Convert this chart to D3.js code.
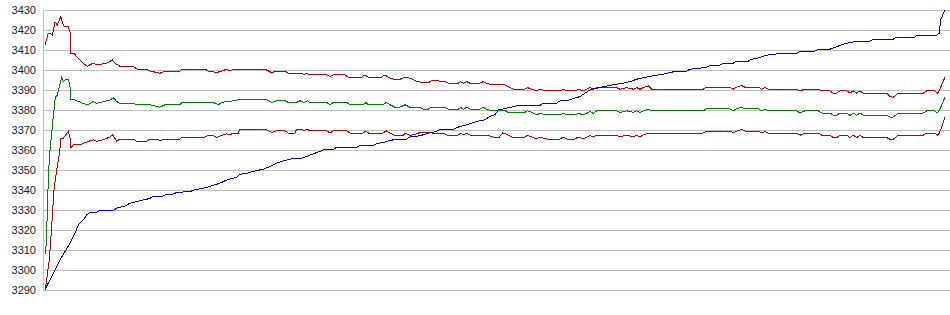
<!DOCTYPE html>
<html>
<head>
<meta charset="utf-8">
<script src="https://cdn.jsdelivr.net/npm/d3@7"></script>
<style>
  body { margin: 0; background: #fff; }
  .tick text { font-family: "Liberation Sans", Arial, sans-serif; font-size: 11px; fill: #222; }
</style>
</head>
<body>
<div id="chart"></div>
<script>
// y ticks
const yTicks = [3290, 3300, 3310, 3320, 3330, 3340, 3350, 3360, 3370, 3380, 3390, 3400, 3410, 3420, 3430];

// each series: [sample index, value]
const upper = [[0,3412.6],[3.3,3418.4],[5,3418.5],[7.3,3417.5],[10,3424],[12.3,3422.5],[14.3,3425],[16,3426.7],[17.3,3424],[19.3,3421.7],[23.3,3421.7],[25,3419],[26,3408.4],[29,3408.4],[31.7,3406.7],[35,3405],[38.3,3403.4],[42.3,3401.8],[45,3402.6],[48.3,3403.4],[51.7,3402.6],[55,3402.6],[58.3,3403.4],[61.7,3403.4],[67.3,3405],[70,3403.4],[75,3401.8],[88.3,3401.8],[91.7,3400.5],[101.7,3400.5],[105,3399.5],[115,3398.4],[120,3399.5],[135,3399.5],[136.7,3400.4],[160,3400.4],[163.3,3399.5],[171.7,3398.7],[176.7,3399.5],[181.7,3400.4],[185,3399.5],[188.3,3400.4],[220,3400.4],[226.7,3398.7],[231.7,3399.5],[240,3399.5],[243.3,3398.4],[256.7,3398.4],[259,3397.6],[261.7,3398.4],[265,3397.6],[281.7,3397.6],[285,3396.8],[288.3,3397.6],[300,3397.6],[303.3,3396.4],[316.7,3396.4],[320,3397.6],[323.3,3396.4],[336.7,3396.4],[340,3397.6],[343.3,3396.4],[348.3,3395.4],[355,3395.4],[360,3396.4],[365,3395.9],[370,3394.7],[376.7,3393.7],[383.3,3393.7],[386.7,3394.6],[400,3394.4],[403.3,3393.4],[413.3,3393.4],[415.7,3394.2],[418.3,3393.4],[421.7,3394.2],[425,3393.4],[435,3393.4],[438.3,3394.2],[441.7,3393.4],[446.7,3392.6],[460,3392.6],[463.3,3391.7],[468.3,3390.4],[480,3390.4],[482.3,3391.2],[486.7,3390.4],[491.7,3389.6],[495,3390.4],[501.7,3389.6],[515,3389.6],[518.3,3390.4],[521.7,3389.6],[530,3389.6],[533.3,3390.4],[538.3,3389.6],[541.7,3390.4],[545,3391.2],[548.3,3390.4],[551.7,3391.2],[571.7,3391.2],[575,3390.4],[581.7,3391.2],[588.3,3390.4],[591.7,3391.2],[595,3390.4],[598.3,3391.2],[603.3,3392],[606.7,3390.4],[658.3,3390.4],[661.7,3391.4],[685,3391.4],[688.3,3390.4],[691.7,3391.4],[696.7,3392.2],[700,3391.4],[713.3,3391.4],[716.7,3390.4],[720,3391.2],[723.3,3390.4],[751.7,3390.4],[755,3389.6],[760,3390.4],[773.3,3390.4],[776.7,3389.6],[785,3389.6],[788.3,3388.4],[791.7,3388.4],[795,3389.6],[801.7,3389.6],[805,3388.4],[808.3,3389.6],[811.7,3388.4],[815,3389.6],[818.3,3388.4],[841.7,3388.4],[845,3386.7],[848.3,3386.4],[853.3,3388.4],[878.3,3388.4],[881.7,3389.6],[890,3389.6],[892.3,3388.4],[894.3,3389.6],[896.7,3392.6],[900,3396.4]];

const middle = [[0.7,3308],[1.7,3320],[2.7,3334],[3.3,3347],[5,3360],[6.7,3368.5],[8.3,3376.8],[10,3385],[10.7,3386.7],[12.3,3387.5],[14.3,3391.7],[16.7,3396.3],[18.3,3394.3],[20,3395],[23.3,3395.4],[25,3391.7],[26,3385],[28.3,3385.4],[31.7,3384.6],[38.3,3383.3],[42.3,3382.6],[48.3,3384.2],[51.7,3383.3],[58.3,3384.2],[65,3385],[68.3,3386.2],[71.7,3384.2],[75,3383.3],[88.3,3383.3],[91.7,3382.6],[105,3382.6],[115,3381.4],[120,3382.6],[135,3382.6],[136.7,3383.8],[168.3,3383.8],[173.3,3382.6],[176.7,3383.8],[181.7,3384.2],[188.3,3384.6],[195,3385.4],[220,3385.4],[226.7,3383.8],[231.7,3384.6],[240,3384.6],[243.3,3383.8],[251.7,3383.8],[255,3384.6],[259,3383.8],[262.3,3384.6],[265,3383.8],[281.7,3383.8],[285,3382.6],[288.3,3383.8],[301.7,3383.8],[305,3382.6],[318.3,3382.6],[321,3383.8],[323.3,3382.6],[338.3,3382.6],[341,3383.8],[345,3382.6],[350,3381.4],[355,3381.4],[360,3382.6],[365,3381.4],[375,3381.4],[378.3,3380.4],[383.3,3380.4],[386.7,3381.4],[400,3381.4],[403.3,3380.4],[413.3,3380.4],[415.7,3381.3],[418.3,3380.4],[421.7,3381.3],[425,3380.4],[435,3380.4],[438.3,3381.3],[441.7,3380.4],[446.7,3379.6],[460,3379.6],[463.3,3378.8],[480,3378.8],[482.3,3379.6],[486.7,3378.8],[491.7,3377.6],[495,3378.3],[501.7,3377.6],[515,3377.6],[518.3,3378.3],[521.7,3377.6],[530,3377.6],[533.3,3378.3],[538.3,3377.6],[541.7,3378.3],[545,3379.2],[548.3,3378.3],[551.7,3379.6],[571.7,3379.6],[575,3378.8],[581.7,3379.6],[588.3,3378.8],[591.7,3379.6],[595,3378.8],[598.3,3379.6],[603.3,3380.4],[606.7,3379.6],[658.3,3379.6],[661.7,3380.6],[685,3380.6],[688.3,3379.6],[691.7,3380.6],[696.7,3381.4],[700,3380.6],[713.3,3380.6],[716.7,3379.6],[720,3380.4],[723.3,3379.6],[751.7,3379.6],[755,3378.5],[760,3379.6],[773.3,3379.6],[776.7,3378.5],[785,3378.5],[788.3,3377.3],[791.7,3377.3],[795,3378.5],[801.7,3378.5],[805,3377.3],[808.3,3378.5],[811.7,3377.3],[815,3378.5],[818.3,3377.3],[841.7,3377.3],[845,3376.5],[848.3,3376.5],[853.3,3378.5],[878.3,3378.5],[881.7,3379.6],[890,3379.6],[892.3,3378.5],[894.3,3379.6],[896.7,3382.6],[900,3386.4]];

const lower = [[0,3290],[1.7,3295],[2.7,3299.5],[4.3,3305],[5.7,3315],[6.7,3321.7],[8.3,3335],[9,3340],[10.7,3346.7],[12.3,3351.8],[14.3,3357.7],[16,3366],[18.3,3366],[20.7,3367.6],[23.3,3369.3],[25,3366],[26,3361],[28.3,3362.6],[35,3362.6],[38.3,3363.4],[43.3,3364.3],[48.3,3365.1],[51.7,3364.3],[58.3,3365.1],[65,3366.5],[67.7,3367.6],[71.7,3364.3],[75,3365.5],[88.3,3365.5],[91.7,3364.3],[101.7,3364.3],[105,3365.5],[112,3365.5],[115,3364.7],[120,3365.5],[135,3365.5],[136.7,3366.5],[160,3366.5],[163.3,3367.3],[168.3,3367.3],[171.7,3366.3],[176.7,3367.3],[181.7,3368.1],[185,3367.6],[188.3,3368.5],[193.3,3368.5],[195,3370.5],[220,3370.5],[226.7,3368.8],[231.7,3369.6],[240,3369.6],[243.3,3368.5],[250,3368.5],[251.7,3370.5],[256.7,3370.5],[259,3369.6],[261.7,3370.5],[265,3369.6],[281.7,3369.6],[285,3368.5],[288.3,3369.6],[301.7,3369.6],[305,3368.5],[318.3,3368.5],[321,3369.6],[323.3,3368.5],[338.3,3368.5],[341,3369.6],[345,3368.5],[350,3367.3],[358.3,3367.3],[360,3368.5],[365,3367.3],[371.7,3368.1],[375,3368.8],[383.3,3368.8],[386.7,3368.5],[398.3,3368.5],[401.7,3367.5],[413.3,3367.5],[415.7,3368.5],[418.3,3367.5],[421.7,3368.5],[425,3367.5],[441.7,3367.5],[448.3,3366.5],[454.3,3366.5],[457.7,3368.5],[461.7,3367.9],[466.7,3366.5],[480,3366.5],[482.3,3367.3],[486.7,3366.5],[491.7,3365.5],[495,3366.5],[501.7,3365.5],[515,3365.5],[518.3,3366.5],[521.7,3365.5],[530,3365.5],[533.3,3366.5],[538.3,3365.5],[541.7,3366.5],[545,3367.3],[548.3,3366.5],[551.7,3367.5],[571.7,3367.5],[575,3366.5],[581.7,3367.5],[588.3,3366.5],[591.7,3367.5],[595,3366.5],[598.3,3367.5],[603.3,3368.5],[658.3,3368.5],[661.7,3369.5],[685,3369.5],[688.3,3368.5],[691.7,3369.5],[696.7,3370.3],[700,3369.5],[713.3,3369.5],[716.7,3368.5],[720,3369.3],[723.3,3368.5],[751.7,3368.5],[755,3367.4],[760,3368.5],[773.3,3368.5],[776.7,3367.4],[785,3367.4],[788.3,3366.2],[791.7,3366.2],[795,3367.4],[801.7,3367.4],[805,3366.2],[808.3,3367.4],[811.7,3366.2],[815,3367.4],[818.3,3366.2],[841.7,3366.2],[845,3365.4],[848.3,3365.4],[853.3,3367.4],[878.3,3367.4],[881.7,3368.5],[890,3368.5],[892.3,3367.4],[894.3,3368.5],[896.7,3371.5],[900,3376.6]];

const cumulative = [[0,3290],[1.7,3292],[5,3295],[10,3300],[15,3305],[20,3309.2],[25,3313.4],[30,3318.4],[33.3,3322.5],[38.3,3325],[41.7,3327.5],[45,3328.9],[51.7,3328.9],[55,3329.7],[68.3,3329.7],[71.7,3330.9],[80,3332],[85,3333.4],[91.7,3334.2],[98.3,3335],[105,3335.8],[108.3,3337],[118.3,3337],[121.7,3338],[128.3,3338],[131.7,3338.8],[145,3339.2],[148.3,3339.9],[155,3340.6],[163.3,3341.5],[170,3342.6],[175,3343.4],[181.7,3345],[191.7,3346.4],[195,3347.9],[201.7,3348.2],[205,3348.9],[211.7,3349.7],[218.3,3350.4],[225,3351.7],[231.7,3353.4],[238.3,3354.6],[245,3355.4],[251.7,3355.9],[256.7,3355.9],[261.7,3356.8],[268.3,3358.1],[275,3359.3],[278.3,3360],[288.3,3360.3],[291.7,3361.4],[311.7,3361.4],[315,3362.2],[328.3,3362.4],[331.7,3363.2],[338.3,3363.8],[341.7,3364.3],[348.3,3365.1],[361.7,3365.5],[365,3366.5],[371.7,3366.8],[378.3,3367.6],[385,3368.6],[391.7,3369.3],[395,3370.3],[408.3,3370.4],[415,3371.8],[421.7,3372.6],[428.3,3373.8],[435,3374.6],[440,3375.1],[445,3376.8],[450,3377.6],[453.3,3380.1],[456.7,3380.4],[465,3381.3],[473.3,3382.3],[495,3382.3],[498.3,3383.4],[511.7,3383.4],[515,3384.6],[521.7,3384.6],[528.3,3385.8],[535,3386.7],[540,3388.4],[545,3390.1],[551.7,3390.9],[558.3,3391.7],[568.3,3392.6],[578.3,3393.4],[585,3394.2],[591.7,3395.4],[598.3,3396.2],[608.3,3397.1],[618.3,3397.9],[625,3398.7],[631.7,3399.5],[641.7,3399.5],[645,3400.4],[655,3400.9],[661.7,3401.4],[665,3402.4],[675,3402.4],[678.3,3403.4],[688.3,3403.4],[691.7,3404.4],[703.3,3404.4],[706.7,3405.4],[713.3,3406],[721.7,3407.4],[736.7,3408.4],[751.7,3408.4],[755,3409.4],[770,3409.4],[773.3,3410.4],[785,3410.4],[791.7,3411.7],[801.7,3413.4],[811.7,3414.4],[825,3414.4],[828.3,3415.4],[848.3,3415.4],[851.7,3416.4],[870,3416.4],[871.7,3417.4],[891.7,3417.4],[894.3,3418.4],[895.7,3425],[898.3,3428.3],[900,3430]];

const series = [
    {name: "lower", data: lower, color: "#c00000"},
    {name: "middle", data: middle, color: "#008000"},
    {name: "upper", data: upper, color: "#c00000"},
    {name: "cumulative", data: cumulative, color: "#0000c8"}
];

const W = 950, H = 315;
const axisX = 43;

const svg = d3.select("#chart")
    .append("svg")
    .attr("width", W)
    .attr("height", H);

const x = d3.scaleLinear()
    .domain([0, 900])
    .range([45, 945]);

const y = d3.scaleLinear()
    .domain([3290, 3430])
    .range([290, 10]);

// gridlines + labels
const yAxis = svg.append("g")
    .attr("transform", `translate(${axisX},0)`)
    .call(d3.axisLeft(y)
        .tickValues(yTicks)
        .tickFormat(d3.format("d"))
        .tickSizeInner(-(W - axisX))
        .tickSizeOuter(0)
        .tickPadding(7));

yAxis.select(".domain").remove();
yAxis.selectAll(".tick line")
    .attr("stroke", "#c0c0c0");

// vertical axis line
svg.append("line")
    .attr("x1", axisX + 0.5)
    .attr("x2", axisX + 0.5)
    .attr("y1", y(3430))
    .attr("y2", y(3290) + 1)
    .attr("stroke", "#c0c0c0");

const line = d3.line()
    .x(d => x(d[0]))
    .y(d => y(d[1]));

svg.selectAll(".series")
    .data(series)
    .enter()
    .append("path")
    .attr("class", "series")
    .attr("fill", "none")
    .attr("stroke", d => d.color)
    .attr("stroke-width", 1)
    .attr("shape-rendering", "crispEdges")
    .attr("d", d => line(d.data));
</script>
</body>
</html>
